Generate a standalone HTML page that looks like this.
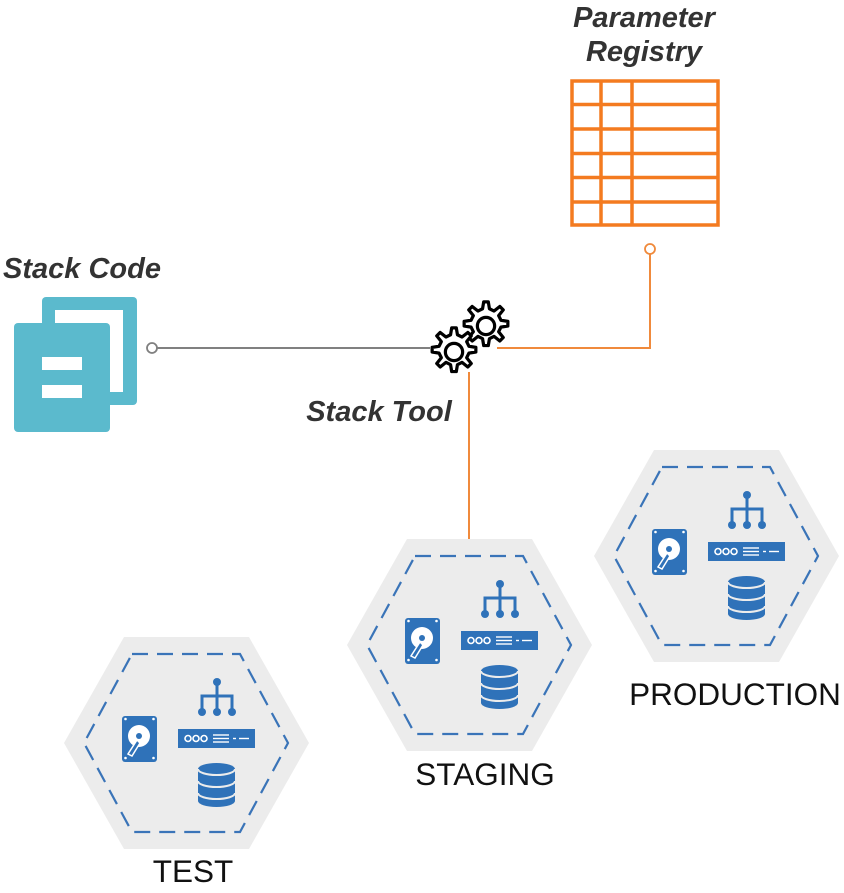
<!DOCTYPE html>
<html><head><meta charset="utf-8"><style>
html,body{margin:0;padding:0;background:#fff;}
svg{display:block;}
.t{font-family:"Liberation Sans",sans-serif;font-style:italic;font-weight:bold;fill:#333;font-size:29px;}
.l{font-family:"Liberation Sans",sans-serif;fill:#111;font-size:31.5px;}
</style></head><body>
<svg width="844" height="893" viewBox="0 0 844 893" xmlns="http://www.w3.org/2000/svg">
<defs>
<g id="env">
  <polygon points="407,539 532,539 592,645 532,751 407,751 347,645" fill="#ececec"/>
  <polygon points="415,556 523,556 571,645 523,734 415,734 367,645" fill="none" stroke="#3a74b8" stroke-width="2.2" stroke-dasharray="16,9"/>
  <rect x="405" y="618" width="35" height="46" rx="3" fill="#2f72b9"/>
  <circle cx="422" cy="638" r="11" fill="#fff"/>
  <circle cx="422" cy="638" r="3" fill="#2f72b9"/>
  <path d="M420,642 L411,656 L415,658 L423,645Z" fill="#2f72b9" stroke="#fff" stroke-width="1.5"/>
  <circle cx="408.5" cy="621" r="1.3" fill="#fff"/><circle cx="436.5" cy="621" r="1.3" fill="#fff"/>
  <circle cx="408.5" cy="660" r="1.3" fill="#fff"/><circle cx="436.5" cy="660" r="1.3" fill="#fff"/>
  <g stroke="#2f72b9" stroke-width="3" fill="none">
    <line x1="500" y1="584" x2="500" y2="611"/>
    <polyline points="485,611 485,598 515,598 515,611"/>
  </g>
  <circle cx="500" cy="584" r="4" fill="#2f72b9"/>
  <circle cx="485" cy="614" r="4" fill="#2f72b9"/><circle cx="500" cy="614" r="4" fill="#2f72b9"/><circle cx="515" cy="614" r="4" fill="#2f72b9"/>
  <rect x="461" y="631" width="77" height="19" fill="#2f72b9"/>
  <g fill="none" stroke="#fff" stroke-width="1.6">
    <circle cx="471" cy="640.5" r="3"/><circle cx="479" cy="640.5" r="3"/><circle cx="487" cy="640.5" r="3"/>
  </g>
  <g stroke="#fff" stroke-width="1.4">
    <line x1="496" y1="637" x2="512" y2="637"/><line x1="496" y1="640.5" x2="512" y2="640.5"/><line x1="496" y1="644" x2="512" y2="644"/>
    <line x1="516" y1="640.5" x2="519" y2="640.5"/><line x1="522" y1="640.5" x2="532" y2="640.5"/>
  </g>
  <path d="M481,671 a18.5,6 0 0 1 37,0 v32 a18.5,6 0 0 1 -37,0z" fill="#2f72b9"/>
  <g fill="none" stroke="#ececec" stroke-width="2">
    <path d="M481,671 a18.5,6 0 0 0 37,0"/>
    <path d="M481,683 a18.5,6 0 0 0 37,0"/>
    <path d="M481,695 a18.5,6 0 0 0 37,0"/>
  </g>
</g>
<path id="gear" d="M0,-21 l4,0 1,6 4,2 5,-4 3,3 -4,5 2,4 6,1 0,4 -6,1 -2,4 4,5 -3,3 -5,-4 -4,2 -1,6 -4,0 -1,-6 -4,-2 -5,4 -3,-3 4,-5 -2,-4 -6,-1 0,-4 6,-1 2,-4 -4,-5 3,-3 5,4 4,-2z" transform="translate(-2,0)"/>
</defs>

<line x1="157" y1="348" x2="430" y2="348" stroke="#808080" stroke-width="2"/>
<circle cx="152" cy="348" r="5" fill="#fff" stroke="#808080" stroke-width="1.8"/>
<polyline points="497,348 650,348 650,254" fill="none" stroke="#f08a3c" stroke-width="2"/>
<circle cx="650" cy="249" r="5" fill="#fff" stroke="#f08a3c" stroke-width="1.8"/>
<line x1="469" y1="372" x2="469" y2="540" stroke="#f08a3c" stroke-width="2"/>

<text class="t" x="644" y="27" text-anchor="middle">Parameter</text>
<text class="t" x="644" y="61" text-anchor="middle">Registry</text>
<text class="t" x="82" y="278" text-anchor="middle">Stack Code</text>
<text class="t" x="379" y="421" text-anchor="middle">Stack Tool</text>

<g stroke="#f47b20" stroke-width="3.5" fill="none">
  <rect x="572" y="81" width="146" height="144"/>
  <line x1="601" y1="81" x2="601" y2="225"/><line x1="632" y1="81" x2="632" y2="225"/>
  <line x1="572" y1="104.5" x2="718" y2="104.5"/><line x1="572" y1="129" x2="718" y2="129"/>
  <line x1="572" y1="153.5" x2="718" y2="153.5"/><line x1="572" y1="177.5" x2="718" y2="177.5"/>
  <line x1="572" y1="202" x2="718" y2="202"/>
</g>

<rect x="42" y="297" width="95" height="108" rx="4" fill="#5bbacd"/>
<rect x="55" y="310" width="68" height="82" fill="#fff"/>
<rect x="14" y="323" width="96" height="109" rx="4" fill="#5bbacd"/>
<rect x="42" y="357" width="40" height="13" fill="#fff"/>
<rect x="42" y="385" width="40" height="13" fill="#fff"/>

<g fill="#fff" stroke="#000" stroke-width="2.8" stroke-linejoin="round">
  <g transform="translate(486,326) scale(1.15)"><use href="#gear"/><circle r="7.5" fill="#fff"/></g>
  <g transform="translate(454,352) scale(1.15)"><use href="#gear"/><circle r="7.5" fill="#fff"/></g>
</g>

<use href="#env" transform="translate(247,-89)"/>
<use href="#env"/>
<use href="#env" transform="translate(-283,98)"/>
<text class="l" x="735" y="705" text-anchor="middle">PRODUCTION</text>
<text class="l" x="485" y="785" text-anchor="middle">STAGING</text>
<text class="l" x="193" y="882" text-anchor="middle">TEST</text>
</svg>
</body></html>
